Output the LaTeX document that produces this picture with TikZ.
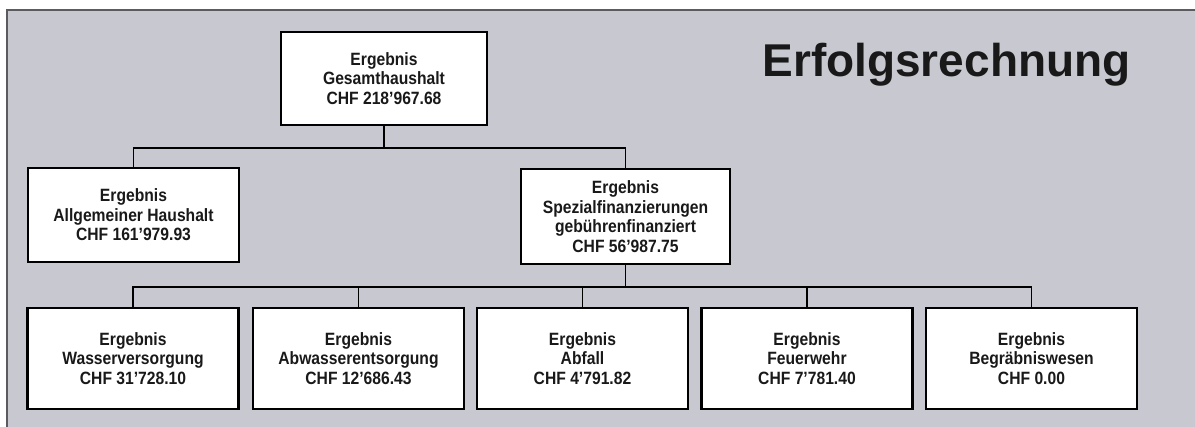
\documentclass[tikz,border=0pt]{standalone}
\usepackage{fontspec}
\setmainfont{Liberation Sans}
\newfontfamily\boxfont[FakeStretch=0.88]{Liberation Sans Bold}
\definecolor{bgcol}{RGB}{200,201,208}
\definecolor{edgecol}{RGB}{90,90,95}
\definecolor{inkcol}{RGB}{25,25,25}
\begin{document}
\begin{tikzpicture}[x=1pt,y=-1pt,
  box/.style={draw=black, fill=white, line width=2.2pt, rectangle, align=center,
    inner sep=0pt, text=inkcol, font=\boxfont\fontsize{17.8}{19.6}\selectfont},
  wbox/.style={box, minimum width=211pt, minimum height=101pt},
  conn/.style={draw=black, line width=1.8pt}]
\useasboundingbox (0,0) rectangle (1195,427);
\fill[bgcol] (7,10) rectangle (1195,427);
\draw[edgecol, line width=1.5pt] (7,427) -- (7,10) -- (1195,10);
\node[font=\bfseries\fontsize{46}{50}\selectfont, text=inkcol, anchor=base] (title) at (946.5,77) {Erfolgsrechnung};
\node[box, minimum width=206pt, minimum height=93pt] (top) at (384,78.5) {Ergebnis\\Gesamthaushalt\\CHF 218’967.68};
\node[box, minimum width=211pt, minimum height=94pt] (allg) at (133.5,215) {Ergebnis\\Allgemeiner Haushalt\\CHF 161’979.93};
\node[box, minimum width=209pt, minimum height=95pt] (spez) at (625.5,216.5) {Ergebnis\\Spezialfinanzierungen\\gebührenfinanziert\\CHF 56’987.75};
\node[wbox] (b1) at (133,358.5) {Ergebnis\\Wasserversorgung\\CHF 31’728.10};
\node[wbox] (b2) at (358.5,358.5) {Ergebnis\\Abwasserentsorgung\\CHF 12’686.43};
\node[wbox] (b3) at (582.5,358.5) {Ergebnis\\Abfall\\CHF 4’791.82};
\node[wbox] (b4) at (807,358.5) {Ergebnis\\Feuerwehr\\CHF 7’781.40};
\node[wbox] (b5) at (1031.5,358.5) {Ergebnis\\Begräbniswesen\\CHF 0.00};
\draw[conn] (top.south) -- ++(0,22) coordinate (j1);
\draw[conn] (allg.north) |- (j1) -| (spez.north);
\draw[conn] (spez.south) -- ++(0,22) coordinate (j2);
\draw[conn] (b1.north) |- (j2) -| (b5.north);
\draw[conn] (b2.north) -- (b2.north |- j2);
\draw[conn] (b3.north) -- (b3.north |- j2);
\draw[conn] (b4.north) -- (b4.north |- j2);
\end{tikzpicture}
\end{document}
